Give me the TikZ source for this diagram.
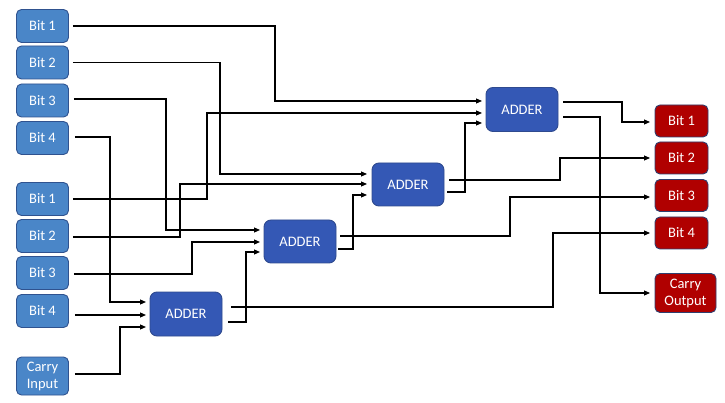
\documentclass[tikz,border=0pt]{standalone}
\usepackage{fontspec}
\setmainfont{Carlito}
\usetikzlibrary{arrows.meta}
\definecolor{inblue}{HTML}{4A86C8}
\definecolor{inborder}{HTML}{2F528F}
\definecolor{addblue}{HTML}{3458B5}
\definecolor{addborder}{HTML}{2F4A8F}
\definecolor{outred}{HTML}{B00000}
\definecolor{outborder}{HTML}{2F3F6F}
\tikzset{
  box/.style={rounded corners=5pt, line width=0.9pt, text=white, align=center,
    font=\fontsize{14.5}{16}\selectfont, inner sep=0pt},
  inbox/.style={box, fill=inblue, draw=inborder, minimum width=52pt, minimum height=33pt},
  addbox/.style={box, fill=addblue, draw=addborder, rounded corners=7pt, minimum width=72pt, minimum height=44pt},
  outbox/.style={box, fill=outred, draw=outborder, minimum width=53pt, minimum height=32pt},
  wire/.style={line width=1.1pt, black},
  arr/.style={wire, -{Triangle[length=6pt,width=5pt]}}
}
\begin{document}
\begin{tikzpicture}[x=1pt,y=-1pt]
\useasboundingbox (0,0) rectangle (725,403);
\fill[white] (0,0) rectangle (725,403);
% inputs
\node[inbox] (i1) at (42.5,26) {Bit 1};
\node[inbox] (i2) at (42.5,62.5) {Bit 2};
\node[inbox] (i3) at (42.5,100.5) {Bit 3};
\node[inbox] (i4) at (42.5,138) {Bit 4};
\node[inbox] (j1) at (42.5,199) {Bit 1};
\node[inbox] (j2) at (42.5,236) {Bit 2};
\node[inbox] (j3) at (42.5,273) {Bit 3};
\node[inbox] (j4) at (42.5,311) {Bit 4};
\node[inbox, minimum height=38pt, font=\fontsize{14.5}{17}\selectfont] (cin) at (42.5,376) {Carry\\Input};
% adders
\node[addbox] (a0) at (186,314) {ADDER};
\node[addbox, minimum height=43pt] (a1) at (300,241.5) {ADDER};
\node[addbox, minimum height=43pt] (a2) at (408,184.5) {ADDER};
\node[addbox] (a3) at (522,109.5) {ADDER};
% outputs
\node[outbox] (o1) at (681.5,121) {Bit 1};
\node[outbox] (o2) at (681.5,158) {Bit 2};
\node[outbox] (o3) at (681.5,195.5) {Bit 3};
\node[outbox] (o4) at (681.5,233) {Bit 4};
\node[outbox, minimum width=61pt, minimum height=39pt, font=\fontsize{14.5}{17}\selectfont] (cout) at (685.5,293) {Carry\\Output};
% ports
\coordinate (a3i1) at (482,101);
\coordinate (a3i2) at (482,113);
\coordinate (a3i3) at (482,123);
\coordinate (a2i1) at (367,174);
\coordinate (a2i2) at (367,184);
\coordinate (a2i3) at (367,195);
\coordinate (a1i1) at (260,230);
\coordinate (a1i2) at (260,242);
\coordinate (a1i3) at (260,252);
\coordinate (a0i1) at (146,302);
\coordinate (a0i2) at (146,315);
\coordinate (a0i3) at (146,327);
\coordinate (o1i) at (650,122);
\coordinate (o2i) at (650,158);
\coordinate (o3i) at (650,197);
\coordinate (o4i) at (650,233);
\coordinate (couti) at (650,293);
% input wires
\draw[arr] ([xshift=4pt]i1.east) -| (275,101) -- (a3i1);
\draw[arr] ([xshift=4pt]j1.east) -| (207,113) -- (a3i2);
\draw[arr] ([xshift=4pt]i2.east) -| (220,174) -- (a2i1);
\draw[arr] ([xshift=4pt,yshift=-1pt]j2.east) -| (180,184) -- (a2i2);
\draw[arr] ([xshift=5pt,yshift=1.5pt]i3.east) -| (166,230) -- (a1i1);
\draw[arr] ([xshift=5pt,yshift=-1pt]j3.east) -| (192,242) -- (a1i2);
\draw[arr] ([xshift=6pt,yshift=1pt]i4.east) -| (110,302) -- (a0i1);
\draw[arr] ([xshift=6pt,yshift=-4pt]j4.east) -- (a0i2);
\draw[arr] ([xshift=6pt,yshift=2pt]cin.east) -| (120,327) -- (a0i3);
% adder to adder
\draw[arr] ([xshift=6pt,yshift=-8pt]a0.east) -| (246,252) -- (a1i3);
\draw[arr] ([xshift=2pt,yshift=-7.5pt]a1.east) -| (353,195) -- (a2i3);
\draw[arr] ([xshift=3pt,yshift=-7.5pt]a2.east) -| (465,123) -- (a3i3);
% outputs
\draw[arr] ([xshift=9pt,yshift=7pt]a0.east) -| (553,233) -- (o4i);
\draw[arr] ([xshift=4pt,yshift=5.5pt]a1.east) -| (510,197) -- (o3i);
\draw[arr] ([xshift=5pt,yshift=4.5pt]a2.east) -| (560,158) -- (o2i);
\draw[arr] ([xshift=5pt,yshift=7.5pt]a3.east) -| (622,122) -- (o1i);
\draw[arr] ([xshift=5pt,yshift=-7.5pt]a3.east) -| (600,293) -- (couti);
\end{tikzpicture}
\end{document}
